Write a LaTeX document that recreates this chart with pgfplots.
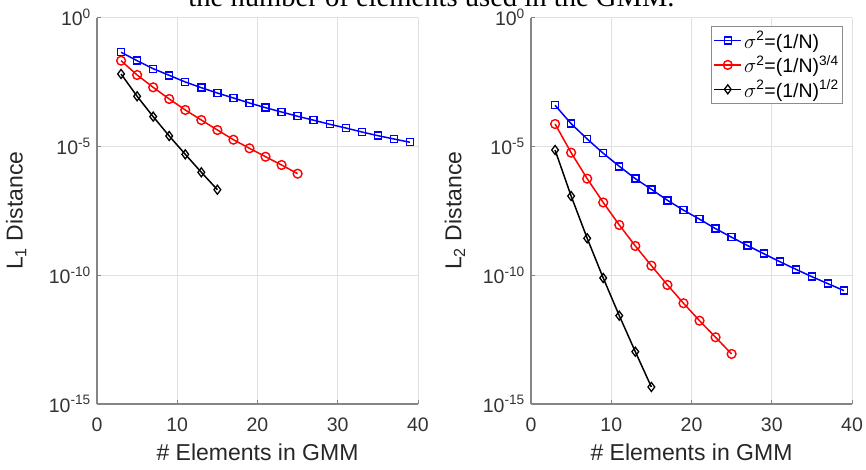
\documentclass[border=0pt]{standalone}
\usepackage{fontspec}
\setmainfont{Liberation Sans}
\newfontfamily\titlefont{Liberation Serif}
\usepackage{pgfplots}
\pgfplotsset{compat=1.18}
\definecolor{axgray}{rgb}{0.52,0.52,0.52}
\definecolor{gridgray}{rgb}{0.88,0.88,0.88}
\begin{document}
\begin{tikzpicture}
\node[font=\titlefont\fontsize{28.6}{30}\selectfont, anchor=base] at (431.5pt,462pt) {the number of elements used in the GMM.};
% left axis
\begin{axis}[
    scale only axis, width=321pt, height=386.5pt,
    at={(97pt,65pt)}, anchor=south west,
    ymode=log, xmin=0, xmax=40, ymin=1e-15, ymax=1,
    xtick={0,10,20,30,40},
    /pgf/number format/assume math mode=true,
    ytick={1,1e-5,1e-10,1e-15},
    yticklabels={10\textsuperscript{0},10\textsuperscript{-5},10\textsuperscript{-10},10\textsuperscript{-15}},
    yminorticks=false, xminorticks=false,
    axis x line*=bottom, axis y line*=left,
    axis line style={-, draw=axgray, line width=1.2pt},
    grid=major, major grid style={draw=gridgray, line width=0.8pt},
    tick align=inside, major tick length=4pt,
    tick style={draw=axgray, line width=0.8pt},
    tick label style={font=\fontsize{19.5}{22}\selectfont, text=black!80},
    xticklabel style={inner sep=0pt, yshift=-14pt, anchor=north},
    yticklabel style={inner sep=0pt, xshift=-6pt, anchor=east},
    xlabel={\# Elements in GMM},
    xlabel style={at={(axis description cs:0.5,-0.145)}, anchor=base, font=\fontsize{23}{26}\selectfont, text=black!85},
    ylabel={L\textsubscript{1} Distance},
    ylabel style={at={(axis description cs:-0.252,0.5)}, anchor=center, font=\fontsize{23}{26}\selectfont, text=black!85},
  ]
\addplot[blue, line width=1.5pt, mark=square, mark size=3.5pt, mark options={solid, line width=1.4pt}] coordinates {
(3,4.47e-2) (5,2.11e-2) (7,1.03e-2) (9,5.71e-3) (11,3.14e-3) (13,1.89e-3) (15,1.17e-3)
(17,7.52e-4) (19,4.81e-4) (21,3.16e-4) (23,2.15e-4) (25,1.47e-4) (27,1.03e-4) (29,7.18e-5)
(31,5.15e-5) (33,3.61e-5) (35,2.59e-5) (37,1.93e-5) (39,1.44e-5)};
\addplot[red, line width=1.5pt, mark=o, mark size=4.4pt, mark options={solid, line width=1.4pt}] coordinates {
(3,2.11e-2) (5,5.87e-3) (7,1.95e-3) (9,6.87e-4) (11,2.58e-4) (13,1.05e-4) (15,4.31e-5)
(17,1.81e-5) (19,8.39e-6) (21,3.96e-6) (23,1.89e-6) (25,8.69e-7)};
\addplot[black, line width=1.5pt, mark=diamond, mark size=4.5pt, mark options={solid, line width=1.3pt}] coordinates {
(3,6.43e-3) (5,8.75e-4) (7,1.42e-4) (9,2.52e-5) (11,4.91e-6) (13,9.84e-7) (15,2.08e-7)};
\end{axis}
% right axis
\begin{axis}[
    scale only axis, width=321pt, height=386.5pt,
    at={(531pt,65pt)}, anchor=south west,
    ymode=log, xmin=0, xmax=40, ymin=1e-15, ymax=1,
    xtick={0,10,20,30,40},
    /pgf/number format/assume math mode=true,
    ytick={1,1e-5,1e-10,1e-15},
    yticklabels={10\textsuperscript{0},10\textsuperscript{-5},10\textsuperscript{-10},10\textsuperscript{-15}},
    yminorticks=false, xminorticks=false,
    axis x line*=bottom, axis y line*=left,
    axis line style={-, draw=axgray, line width=1.2pt},
    grid=major, major grid style={draw=gridgray, line width=0.8pt},
    tick align=inside, major tick length=4pt,
    tick style={draw=axgray, line width=0.8pt},
    tick label style={font=\fontsize{19.5}{22}\selectfont, text=black!80},
    xticklabel style={inner sep=0pt, yshift=-14pt, anchor=north},
    yticklabel style={inner sep=0pt, xshift=-6pt, anchor=east},
    xlabel={\# Elements in GMM},
    xlabel style={at={(axis description cs:0.5,-0.145)}, anchor=base, font=\fontsize{23}{26}\selectfont, text=black!85},
    ylabel={L\textsubscript{2} Distance},
    ylabel style={at={(axis description cs:-0.237,0.5)}, anchor=center, font=\fontsize{23}{26}\selectfont, text=black!85},
    legend cell align=left,
    legend style={at={(axis description cs:1,1)}, anchor=north east, xshift=-9pt, yshift=-8.5pt,
      draw=black!45, line width=0.8pt, fill=white, font=\fontsize{19.5}{22}\selectfont,
      inner xsep=2pt, inner ysep=3pt, row sep=1.5pt},
    legend image code/.code={\draw[mark repeat=2, mark phase=2] plot coordinates {(0pt,0pt) (13.5pt,0pt) (27pt,0pt)};},
  ]
\addplot[blue, line width=1.5pt, mark=square, mark size=3.5pt, mark options={solid, line width=1.4pt}] coordinates {
(3,3.92e-4) (5,7.57e-5) (7,1.93e-5) (9,5.37e-6) (11,1.68e-6) (13,5.56e-7) (15,2.15e-7)
(17,8.05e-8) (19,3.33e-8) (21,1.49e-8) (23,6.37e-9) (25,2.96e-9) (27,1.40e-9) (29,6.82e-10)
(31,3.34e-10) (33,1.69e-10) (35,8.75e-11) (37,4.68e-11) (39,2.51e-11)};
\addlegendentry{$\sigma$\textsuperscript{2}=(1/N)}
\addplot[red, line width=1.5pt, mark=o, mark size=4.4pt, mark options={solid, line width=1.4pt}] coordinates {
(3,7.36e-5) (5,5.68e-6) (7,5.56e-7) (9,6.62e-8) (11,8.87e-9) (13,1.36e-9) (15,2.34e-10)
(17,4.17e-11) (19,8.13e-12) (21,1.71e-12) (23,3.89e-13) (25,8.75e-14)};
\addlegendentry{$\sigma$\textsuperscript{2}=(1/N)\textsuperscript{3/4}}
\addplot[black, line width=1.5pt, mark=diamond, mark size=4.5pt, mark options={solid, line width=1.3pt}] coordinates {
(3,7.21e-6) (5,1.18e-7) (7,2.70e-9) (9,7.78e-11) (11,2.68e-12) (13,1.07e-13) (15,4.59e-15)};
\addlegendentry{$\sigma$\textsuperscript{2}=(1/N)\textsuperscript{1/2}}
\end{axis}
\pgfresetboundingbox
\useasboundingbox (0pt,0pt) rectangle (866pt,469pt);
\end{tikzpicture}
\end{document}
